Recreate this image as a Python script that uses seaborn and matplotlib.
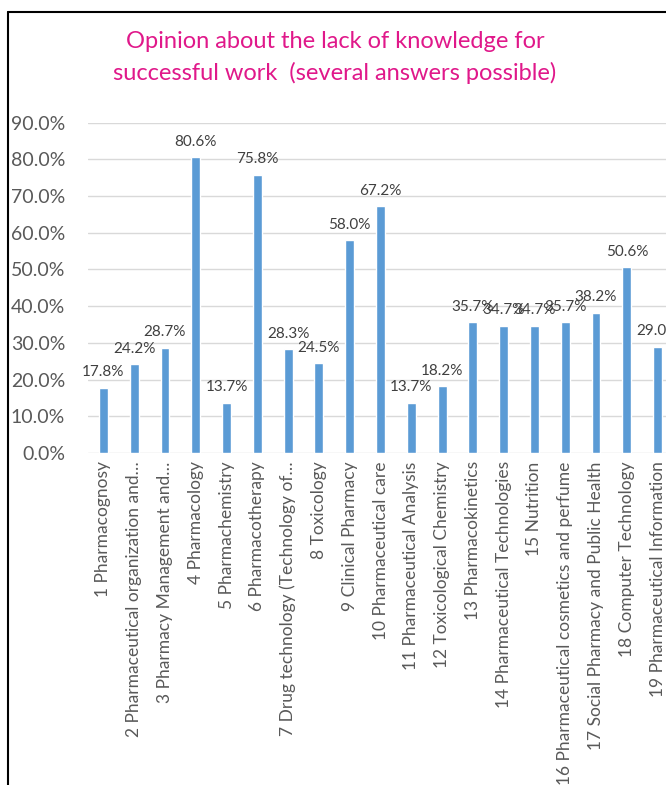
import matplotlib
matplotlib.use("Agg")
import matplotlib.pyplot as plt
import seaborn as sns
import pandas as pd
from matplotlib.lines import Line2D
from matplotlib.ticker import FuncFormatter

categories = [
    "1 Pharmacognosy",
    "2 Pharmaceutical organization and…",
    "3 Pharmacy Management and…",
    "4 Pharmacology",
    "5 Pharmachemistry",
    "6 Pharmacotherapy",
    "7 Drug technology (Technology of…",
    "8 Toxicology",
    "9 Clinical Pharmacy",
    "10 Pharmaceutical care",
    "11 Pharmaceutical Analysis",
    "12 Toxicological Chemistry",
    "13 Pharmacokinetics",
    "14 Pharmaceutical Technologies",
    "15 Nutrition",
    "16 Pharmaceutical cosmetics and perfume",
    "17 Social Pharmacy and Public Health",
    "18 Computer Technology",
    "19 Pharmaceutical Information",
]
values = [17.8, 24.2, 28.7, 80.6, 13.7, 75.8, 28.3, 24.5, 58.0, 67.2,
          13.7, 18.2, 35.7, 34.7, 34.7, 35.7, 38.2, 50.6, 29.0]
title_lines = ["Opinion about the lack of knowledge for",
               "successful work  (several answers possible)"]

df = pd.DataFrame({"category": categories, "value": [v / 100 for v in values]})

sns.set_theme(style="white")
plt.rcParams["font.family"] = ["Lato", "DejaVu Sans"]

W, H = 666, 785
fig = plt.figure(figsize=(W / 100, H / 100), dpi=100)
fig.patch.set_facecolor("white")

ax_left, ax_right = 88, 673
ax_bottom_px, ax_top_px = 453, 122.6
ax = fig.add_axes([ax_left / W, (H - ax_bottom_px) / H,
                   (ax_right - ax_left) / W, (ax_bottom_px - ax_top_px) / H])

sns.barplot(data=df, x="category", y="value", color="#5B9BD5",
            width=0.29, saturation=1, ax=ax, zorder=3)

ax.set_ylim(0, 0.9)
ax.set_yticks([i / 10 for i in range(10)])
ax.yaxis.set_major_formatter(FuncFormatter(lambda v, p: f"{v*100:.1f}%"))
ax.grid(axis="y", color="#D9D9D9", linewidth=1, zorder=0)
ax.set_axisbelow(True)
for s in ax.spines.values():
    s.set_visible(False)
ax.set_xlabel("")
ax.set_ylabel("")
ax.tick_params(axis="y", length=0, pad=16.5, labelsize=14, labelcolor="#595959")
ax.tick_params(axis="x", length=0, pad=6, labelsize=12.5, labelcolor="#595959")
for lab in ax.get_xticklabels():
    lab.set_rotation(90)
    lab.set_va("top")
    lab.set_ha("center")

for i, v in enumerate(values):
    ax.annotate(f"{v:.1f}%", (i, v / 100), xytext=(0, 6), textcoords="offset points",
                ha="center", va="bottom", fontsize=11, color="#404040",
                annotation_clip=False)

fig.text(335 / W, 1 - 42 / H, title_lines[0], ha="center", va="center",
         fontsize=17, color="#E0188A")
fig.text(335 / W, 1 - 73 / H, title_lines[1], ha="center", va="center",
         fontsize=17, color="#E0188A")

fig.add_artist(Line2D([7.5 / W, 7.5 / W], [0, 1 - 12 / H], transform=fig.transFigure,
                      color="black", linewidth=1.5))
fig.add_artist(Line2D([7.5 / W, 1], [1 - 12 / H, 1 - 12 / H], transform=fig.transFigure,
                      color="black", linewidth=1.5))

fig.savefig("out.png", dpi=100)
